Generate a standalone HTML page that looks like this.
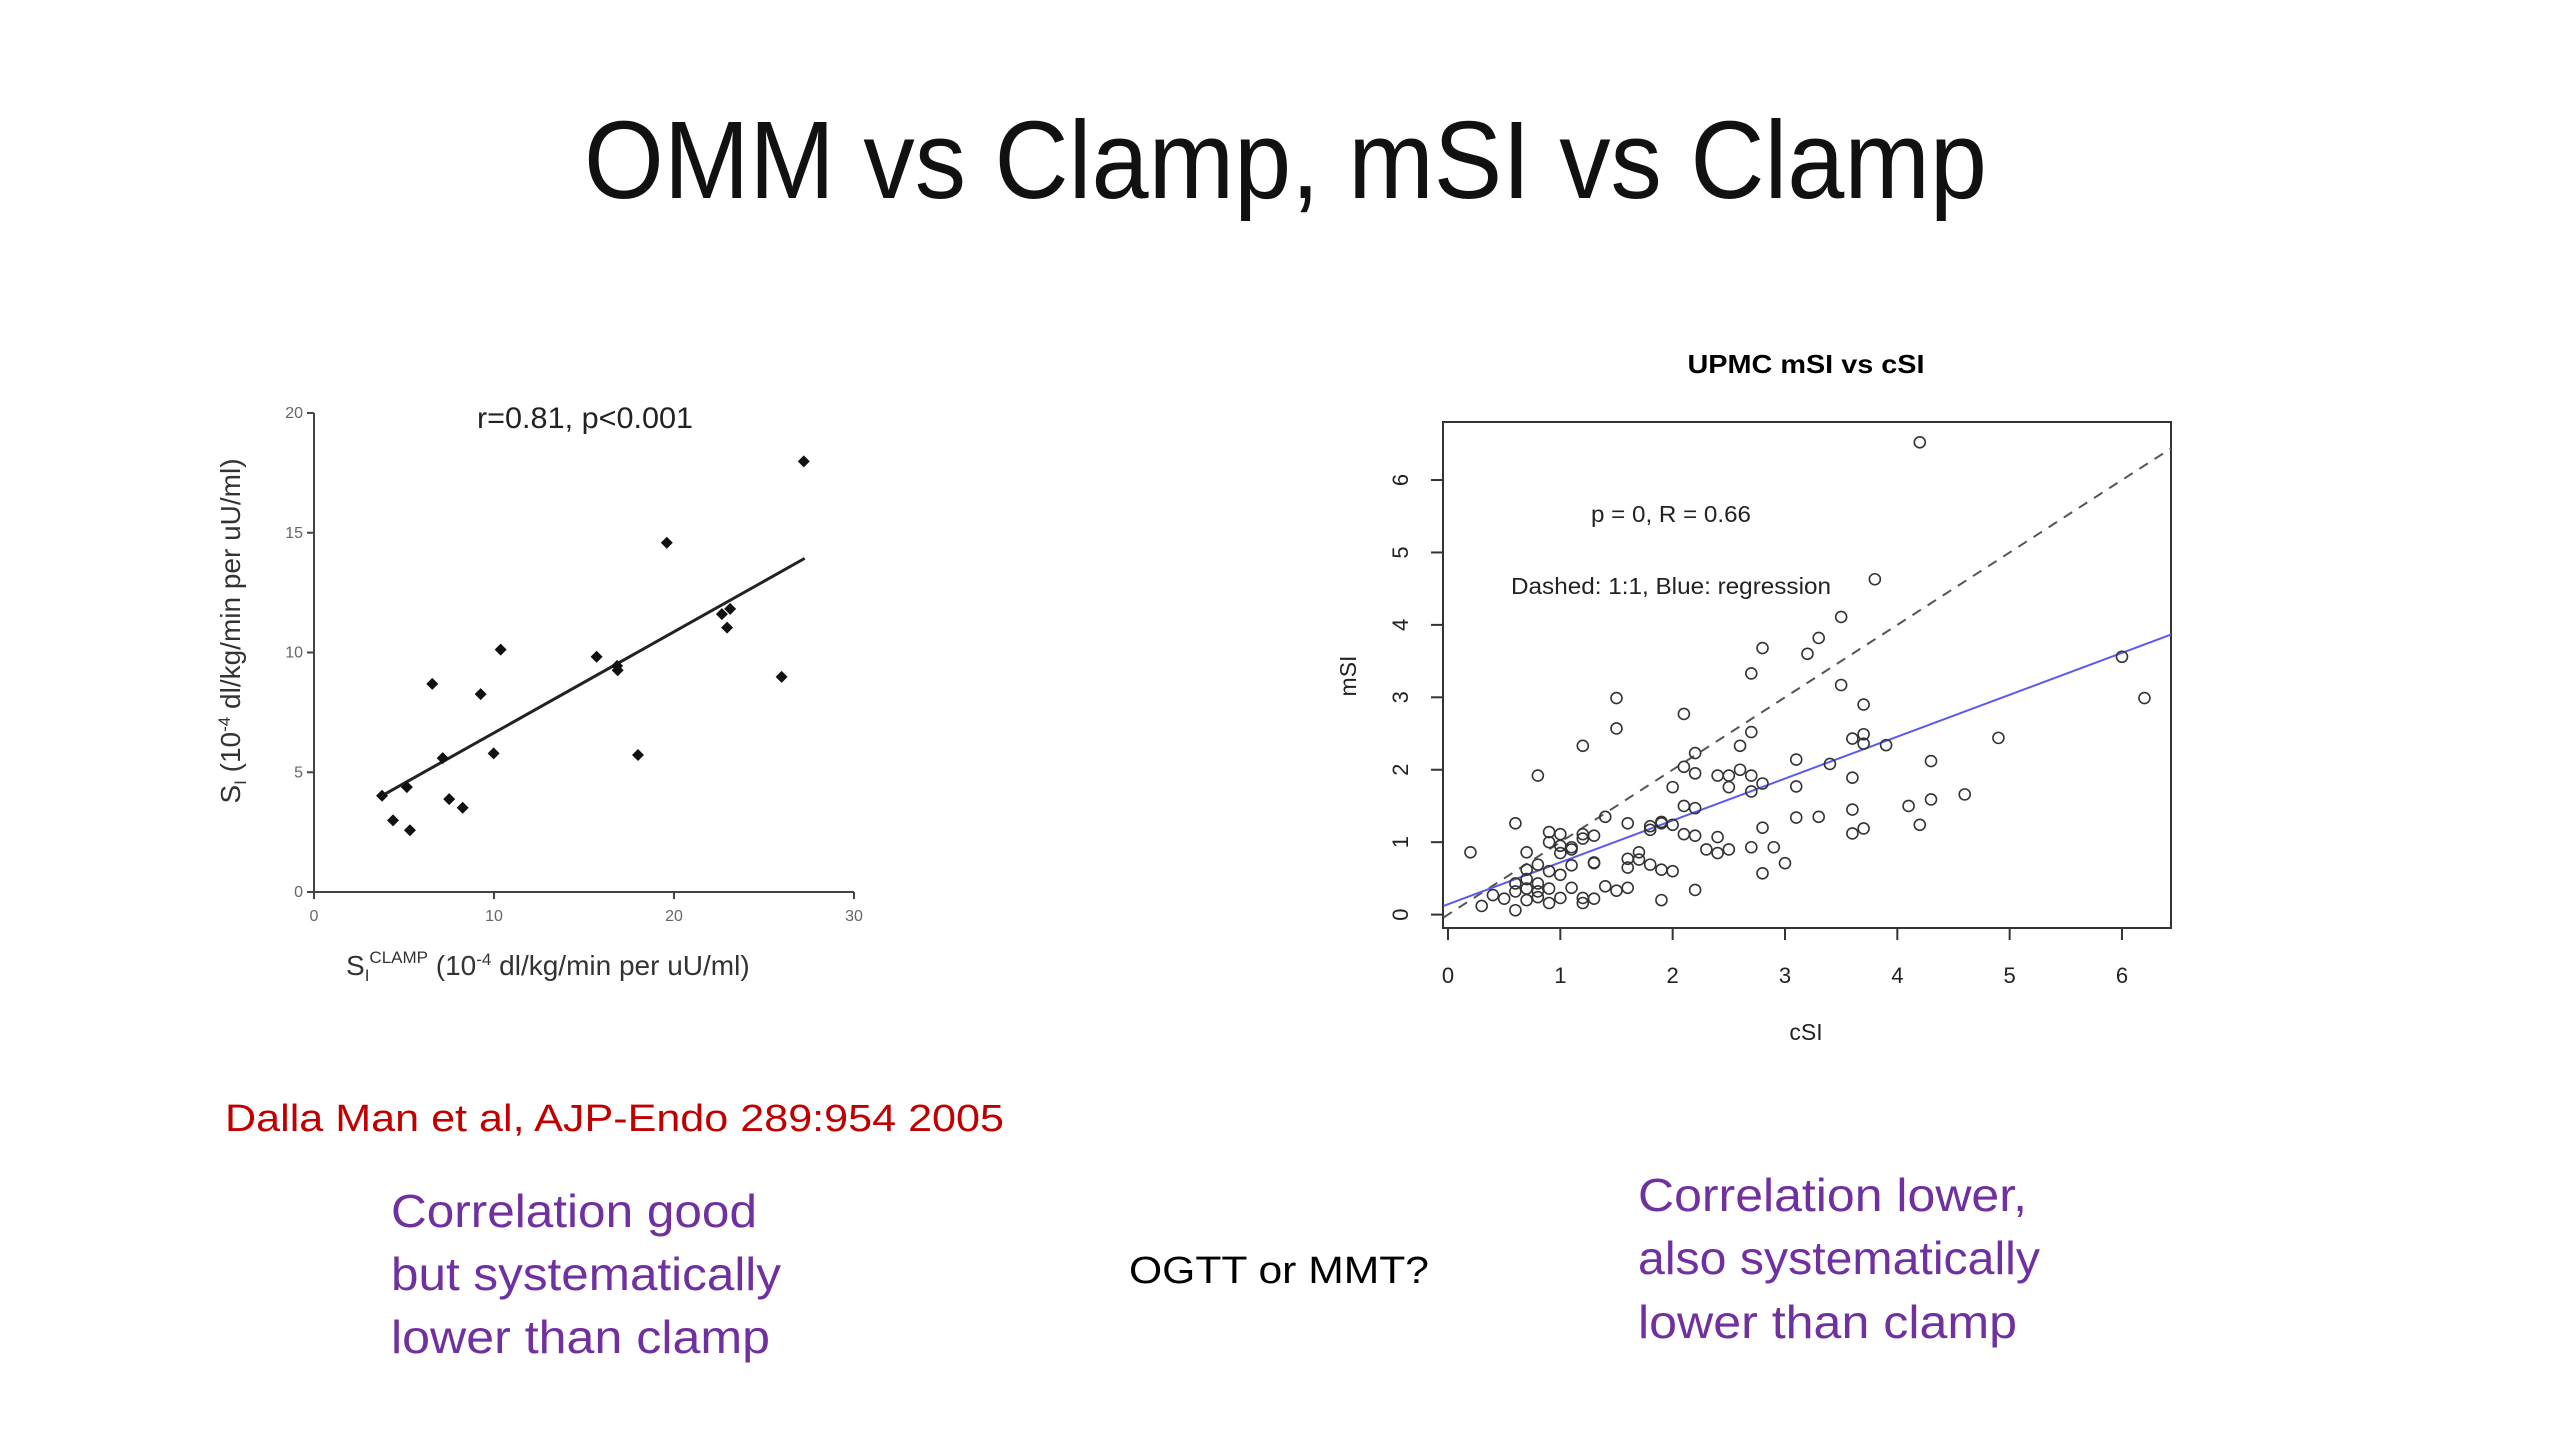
<!DOCTYPE html>
<html><head><meta charset="utf-8"><style>
html,body{margin:0;padding:0;background:#fff;}
svg{display:block;}
text{font-family:"Liberation Sans",sans-serif;}
</style></head><body>
<svg id="slide" width="2560" height="1440" viewBox="0 0 2560 1440">
<rect width="2560" height="1440" fill="#fff"/>
<text x="584" y="198" font-size="110" textLength="1403" lengthAdjust="spacingAndGlyphs" fill="#111">OMM vs Clamp, mSI vs Clamp</text>

<g id="left">
  <text x="477" y="428" font-size="30" textLength="216" lengthAdjust="spacingAndGlyphs" fill="#222">r=0.81, p&lt;0.001</text>
  <line x1="314" y1="413" x2="314" y2="892" stroke="#444" stroke-width="2"/>
  <line x1="314" y1="892" x2="854" y2="892" stroke="#444" stroke-width="2"/>
  <g id="lyt"></g>
  <g id="lxt"></g>
  <g id="lmarks"></g>
  <text transform="translate(240,631) rotate(-90)" text-anchor="middle" font-size="28" fill="#333">S<tspan font-size="17" dy="6">I</tspan><tspan dy="-6"> (10</tspan><tspan font-size="17" dy="-10">-4</tspan><tspan dy="10"> dl/kg/min per uU/ml)</tspan></text>
  <text x="346" y="975" font-size="28" fill="#333">S<tspan font-size="17" dy="6">I</tspan><tspan font-size="17" dy="-18">CLAMP</tspan><tspan dy="12"> (10</tspan><tspan font-size="17" dy="-10">-4</tspan><tspan dy="10"> dl/kg/min per uU/ml)</tspan></text>
</g>

<g id="right">
  <text x="1806" y="373" text-anchor="middle" font-size="26" font-weight="bold" textLength="237" lengthAdjust="spacingAndGlyphs" fill="#000">UPMC mSI vs cSI</text>
  <defs><clipPath id="rclip"><rect x="1443" y="422" width="728" height="506"/></clipPath></defs>
  <rect x="1443" y="422" width="728" height="506" fill="none" stroke="#333" stroke-width="2"/>
  <g id="rxt"></g>
  <g id="ryt"></g>
  <g id="rlines" clip-path="url(#rclip)"></g>
  <g id="rmarks"></g>
  <text x="1591" y="522" font-size="23" textLength="160" lengthAdjust="spacingAndGlyphs" fill="#222">p = 0, R = 0.66</text>
  <text x="1511" y="594" font-size="23" textLength="320" lengthAdjust="spacingAndGlyphs" fill="#222">Dashed: 1:1, Blue: regression</text>
  <text x="1806" y="1040" text-anchor="middle" font-size="23" fill="#222">cSI</text>
  <text transform="translate(1356,676) rotate(-90)" text-anchor="middle" font-size="23" fill="#222">mSI</text>
</g>

<text x="225" y="1131" font-size="38" textLength="779" lengthAdjust="spacingAndGlyphs" fill="#c00000">Dalla Man et al, AJP-Endo 289:954 2005</text>
<g fill="#7030a0" font-size="46">
  <text x="391" y="1227" textLength="366" lengthAdjust="spacingAndGlyphs">Correlation good</text>
  <text x="391" y="1290" textLength="390" lengthAdjust="spacingAndGlyphs">but systematically</text>
  <text x="391" y="1353" textLength="379" lengthAdjust="spacingAndGlyphs">lower than clamp</text>
</g>
<text x="1129" y="1283" font-size="38" textLength="300" lengthAdjust="spacingAndGlyphs" fill="#000">OGTT or MMT?</text>
<g fill="#7030a0" font-size="46">
  <text x="1638" y="1211" textLength="389" lengthAdjust="spacingAndGlyphs">Correlation lower,</text>
  <text x="1638" y="1274" textLength="402" lengthAdjust="spacingAndGlyphs">also systematically</text>
  <text x="1638" y="1338" textLength="379" lengthAdjust="spacingAndGlyphs">lower than clamp</text>
</g>
</svg>
<script>
// ---- left chart data ----
const leftXTicks = [0, 10, 20, 30];
const leftYTicks = [0, 5, 10, 15, 20];
const leftX = [3.78,4.39,5.16,5.33,6.57,7.15,7.51,8.26,9.26,9.98,10.37,15.70,16.84,16.87,18.0,19.6,22.66,23.12,22.95,25.98,27.21];
const leftY = [4.02,2.99,4.38,2.58,8.69,5.59,3.88,3.52,8.26,5.79,10.12,9.82,9.44,9.26,5.72,14.58,11.60,11.82,11.04,8.98,17.98];
const leftRegX = [3.78, 27.26];
const leftRegY = [4.02, 13.93];
// ---- right chart data ----
const rightXTicks = [0,1,2,3,4,5,6];
const rightYTicks = [0,1,2,3,4,5,6];
const rightX = [0.2,0.3,0.4,0.5,0.6,0.6,0.6,0.6,0.7,0.7,0.7,0.7,0.8,0.8,0.8,0.8,0.9,0.9,0.9,0.9,1.0,1.0,1.0,1.0,1.1,1.1,1.1,1.2,1.2,1.2,1.2,1.3,1.3,1.3,1.4,1.4,1.5,1.5,1.5,1.6,1.6,1.6,1.6,1.7,1.7,1.8,1.8,1.9,1.9,1.9,2.0,2.0,2.0,2.1,2.1,2.1,2.1,2.2,2.2,2.2,2.2,2.2,2.3,2.4,2.4,2.4,2.5,2.5,2.5,2.6,2.6,2.7,2.7,2.7,2.7,2.7,2.8,2.8,2.8,2.8,2.9,3.0,3.1,3.1,3.1,3.2,3.3,3.3,3.4,3.5,3.5,3.6,3.6,3.6,3.6,3.7,3.7,3.7,3.7,3.8,3.9,4.1,4.2,4.2,4.3,4.3,4.6,4.9,6.0,6.2,1.1,1.3,1.0,0.9,0.7,1.2,0.8,1.8,1.9];
const rightY = [0.86,0.12,0.27,0.22,1.26,0.06,0.32,0.43,0.86,0.49,0.36,0.2,1.92,0.69,0.43,0.24,1.14,0.6,0.36,0.16,1.11,0.95,0.55,0.23,0.93,0.68,0.37,2.33,1.11,0.23,0.16,1.09,0.71,0.22,1.35,0.39,2.99,2.57,0.33,1.26,0.77,0.65,0.37,0.86,0.76,0.69,1.17,1.26,0.62,0.2,1.76,1.24,0.6,2.77,2.04,1.5,1.11,2.23,1.95,1.47,1.09,0.34,0.9,1.92,1.07,0.85,1.76,1.92,0.9,2.33,2.0,3.33,2.52,1.92,1.7,0.93,3.68,1.81,1.2,0.57,0.93,0.71,2.14,1.77,1.34,3.6,3.82,1.35,2.08,4.11,3.17,2.43,1.89,1.45,1.12,2.9,2.49,2.36,1.19,4.63,2.34,1.5,6.52,1.24,2.12,1.59,1.66,2.44,3.56,2.99,0.9,0.72,0.85,1.0,0.62,1.05,0.32,1.22,1.28];
const rightRegX = [-0.04, 6.46];
const rightRegY = [0.12, 3.88];
const rightDiagX = [-0.04, 6.46];

const NS = 'http://www.w3.org/2000/svg';
function mk(tag, attrs, parent){const e=document.createElementNS(NS,tag);for(const k in attrs)e.setAttribute(k,attrs[k]);parent.appendChild(e);return e;}
// left scales
const lx = v => 314 + v/30*540;
const ly = v => 892 - v/20*479;
// right scales
const rx = v => 1448 + v*112.33;
const ry = v => 914.6 - v*72.43;

const lyt=document.getElementById('lyt'), lxt=document.getElementById('lxt'), lm=document.getElementById('lmarks');
leftYTicks.forEach(t=>{
  const l=mk('line',{x1:307,x2:314,y1:ly(t),y2:ly(t),stroke:'#444','stroke-width':2},lyt);
  
  
  const tx=mk('text',{x:303,y:ly(t)+5,'text-anchor':'end','font-size':16,fill:'#666'},lyt);
  tx.textContent=t;
  
  
});
leftXTicks.forEach(t=>{
  const l=mk('line',{x1:lx(t),x2:lx(t),y1:892,y2:899,stroke:'#444','stroke-width':2},lxt);
  
  
  const tx=mk('text',{x:lx(t),y:921,'text-anchor':'middle','font-size':16,fill:'#666'},lxt);
  tx.textContent=t;
  
  
});
const lr=mk('line',{x1:lx(leftRegX[0]),y1:ly(leftRegY[0]),x2:lx(leftRegX[1]),y2:ly(leftRegY[1]),stroke:'#222','stroke-width':3},lm);


leftX.forEach((v,i)=>{
  const cx=lx(v), cy=ly(leftY[i]), s=6;
  const p=mk('polygon',{points:`${cx},${cy-s} ${cx+s},${cy} ${cx},${cy+s} ${cx-s},${cy}`,fill:'#111'},lm);
  
  
});

const rxt=document.getElementById('rxt'), ryt=document.getElementById('ryt'), rl=document.getElementById('rlines'), rm=document.getElementById('rmarks');
rightXTicks.forEach(t=>{
  const l=mk('line',{x1:rx(t),x2:rx(t),y1:928,y2:940,stroke:'#333','stroke-width':2},rxt);
  
  
  const tx=mk('text',{x:rx(t),y:983,'text-anchor':'middle','font-size':22,fill:'#222'},rxt);
  tx.textContent=t;
  
  
});
rightYTicks.forEach(t=>{
  const l=mk('line',{x1:1431,x2:1443,y1:ry(t),y2:ry(t),stroke:'#333','stroke-width':2},ryt);
  
  
  const tx=mk('text',{transform:`translate(1408,${ry(t)}) rotate(-90)`,'text-anchor':'middle','font-size':22,fill:'#222'},ryt);
  tx.textContent=t;
  
  
});
const dl=mk('line',{x1:rx(rightDiagX[0]),y1:ry(rightDiagX[0]),x2:rx(rightDiagX[1]),y2:ry(rightDiagX[1]),stroke:'#555','stroke-width':2,'stroke-dasharray':'10,8'},rl);


const bl=mk('line',{x1:rx(rightRegX[0]),y1:ry(rightRegY[0]),x2:rx(rightRegX[1]),y2:ry(rightRegY[1]),stroke:'#5a5af0','stroke-width':2},rl);


rightX.forEach((v,i)=>{
  const c=mk('circle',{cx:rx(v),cy:ry(rightY[i]),r:5.5,fill:'none',stroke:'#333','stroke-width':1.6},rm);
  
  
});
</script>
</body></html>
